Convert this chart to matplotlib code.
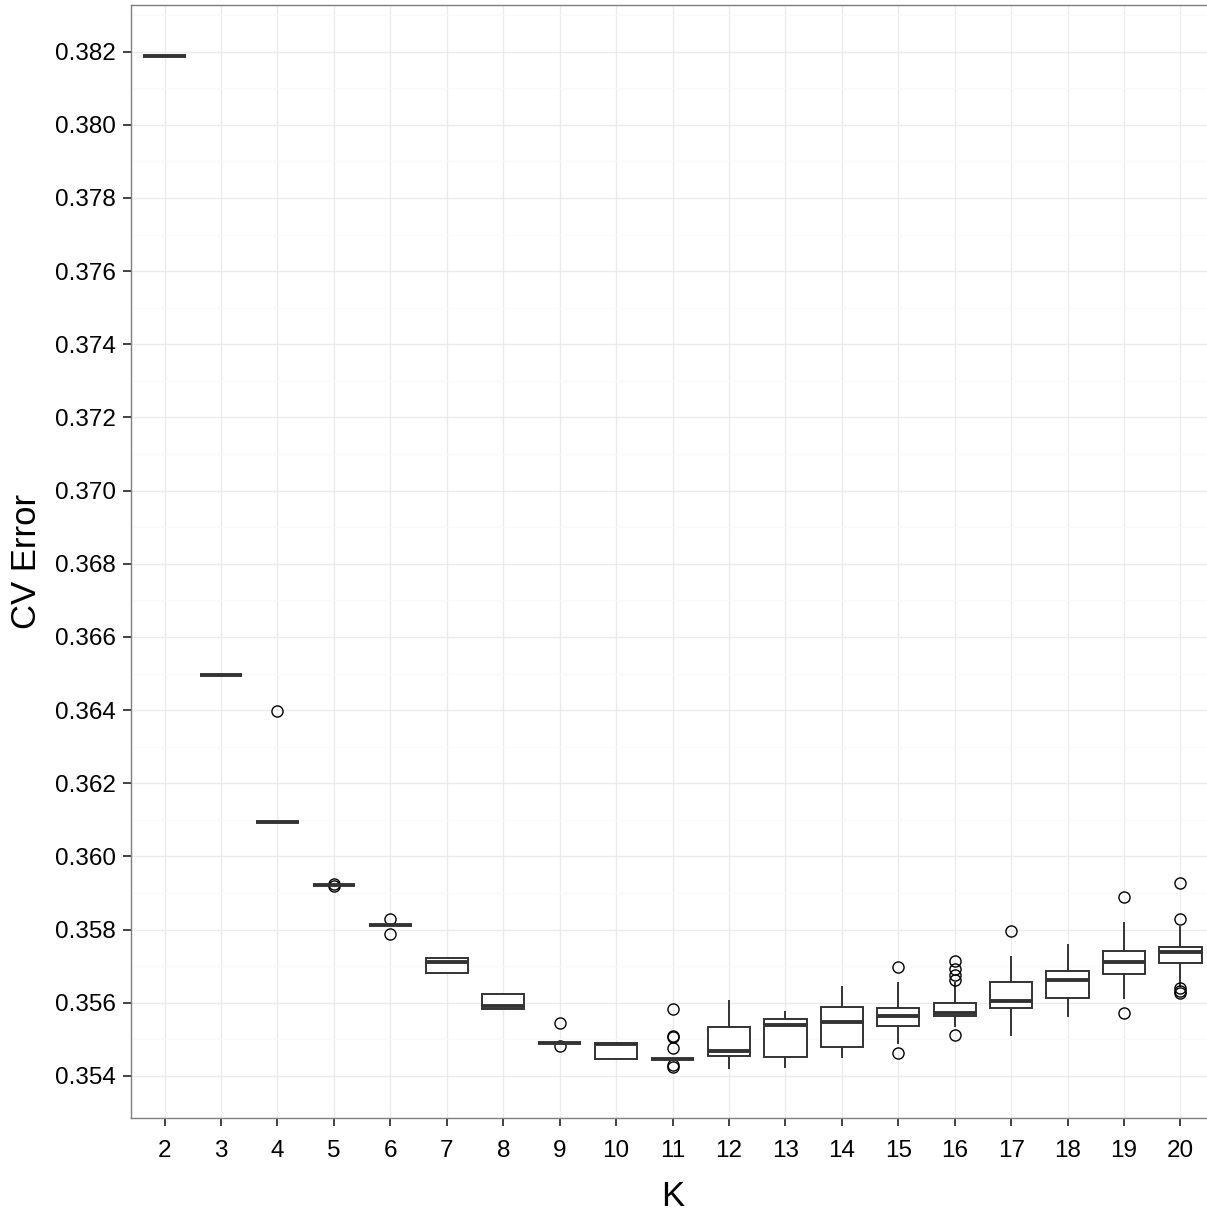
import matplotlib.pyplot as plt
from matplotlib.ticker import MultipleLocator

k_values = list(range(2, 21))
q1 = [0.38189, 0.36495, 0.36093, 0.35922, 0.35813, 0.35680, 0.35582, 0.35491, 0.354456, 0.35447,
      0.354555, 0.354527, 0.354784, 0.355367, 0.355648, 0.355851, 0.356132, 0.35678, 0.357081]
medians = [0.38189, 0.36495, 0.36093, 0.35922, 0.35813, 0.357125, 0.35590, 0.35491, 0.35487, 0.35447,
           0.354691, 0.355386, 0.355484, 0.355648, 0.355714, 0.356059, 0.356625, 0.357126, 0.357399]
q3 = [0.38189, 0.36495, 0.36093, 0.35922, 0.35813, 0.35723, 0.35623, 0.35491, 0.354911, 0.35447,
      0.355348, 0.355558, 0.355886, 0.355851, 0.356004, 0.356578, 0.356879, 0.357426, 0.357519]
whisker_low = [0.38189, 0.36495, 0.36093, 0.35922, 0.35813, 0.35680, 0.35582, 0.35491, 0.354456, 0.35447,
               0.35421, 0.354254, 0.354527, 0.354894, 0.355376, 0.355112, 0.35564, 0.356141, 0.356461]
whisker_high = [0.38189, 0.36495, 0.36093, 0.35922, 0.35813, 0.35723, 0.35623, 0.35491, 0.354911, 0.35447,
                0.356059, 0.355758, 0.356425, 0.356551, 0.356534, 0.357245, 0.357574, 0.358175, 0.358083]
outliers = [
    [], [], [0.36398], [0.35925, 0.35919], [0.35828, 0.35788], [], [], [0.35544, 0.35482], [],
    [0.35582, 0.35509, 0.35506, 0.35476, 0.35430, 0.35425],
    [], [], [], [0.356988, 0.35462],
    [0.357144, 0.356917, 0.356762, 0.356625, 0.355112],
    [0.357973], [], [0.358886, 0.355731],
    [0.359285, 0.358301, 0.356398, 0.356324, 0.35626],
]

stats = []
for i in range(len(k_values)):
    stats.append({'med': medians[i], 'q1': q1[i], 'q3': q3[i],
                  'whislo': whisker_low[i], 'whishi': whisker_high[i],
                  'fliers': outliers[i]})

plt.rcParams['font.family'] = ['Liberation Sans', 'DejaVu Sans']
fig = plt.figure(figsize=(12.07, 12.16), dpi=100)
ax = fig.add_axes([0.1083, 0.0804, 0.8978, 0.9153])

dark = '#333333'
positions = list(range(1, len(k_values) + 1))
ax.bxp(stats, positions=positions, widths=0.75, patch_artist=True, showcaps=False,
       boxprops=dict(facecolor='white', edgecolor=dark, linewidth=1.4),
       whiskerprops=dict(color=dark, linewidth=1.4),
       medianprops=dict(color=dark, linewidth=2.8, solid_capstyle='butt'),
       flierprops=dict(marker='o', markersize=8, markerfacecolor='none',
                       markeredgecolor='black', markeredgewidth=1.0),
       zorder=3)

ax.set_xlim(0.4, len(k_values) + 0.6)
ax.set_ylim(0.352843, 0.383269)
ax.set_xticks(positions)
ax.set_xticklabels([str(k) for k in k_values])
ax.yaxis.set_major_locator(MultipleLocator(0.002))
ax.yaxis.set_minor_locator(MultipleLocator(0.001))
ax.yaxis.set_major_formatter(plt.FormatStrFormatter('%.3f'))

ax.grid(True, which='major', color='#EBEBEB', linewidth=1.0, zorder=0)
ax.grid(True, which='minor', axis='y', color='#FAFAFA', linewidth=1.0, zorder=0)
ax.set_axisbelow(True)

for side in ax.spines.values():
    side.set_color('#7F7F7F')
    side.set_linewidth(1.0)

ax.tick_params(axis='both', which='major', length=5.5, width=1.3, color='#333333',
               labelsize=17.5, labelcolor='black')
ax.tick_params(axis='x', pad=10)
ax.tick_params(axis='y', pad=5)
ax.tick_params(which='minor', length=0)

ax.set_xlabel('K', fontsize=25, labelpad=13)
ax.set_ylabel('CV Error', fontsize=25, labelpad=9)

fig.savefig('out.png', dpi=100)
